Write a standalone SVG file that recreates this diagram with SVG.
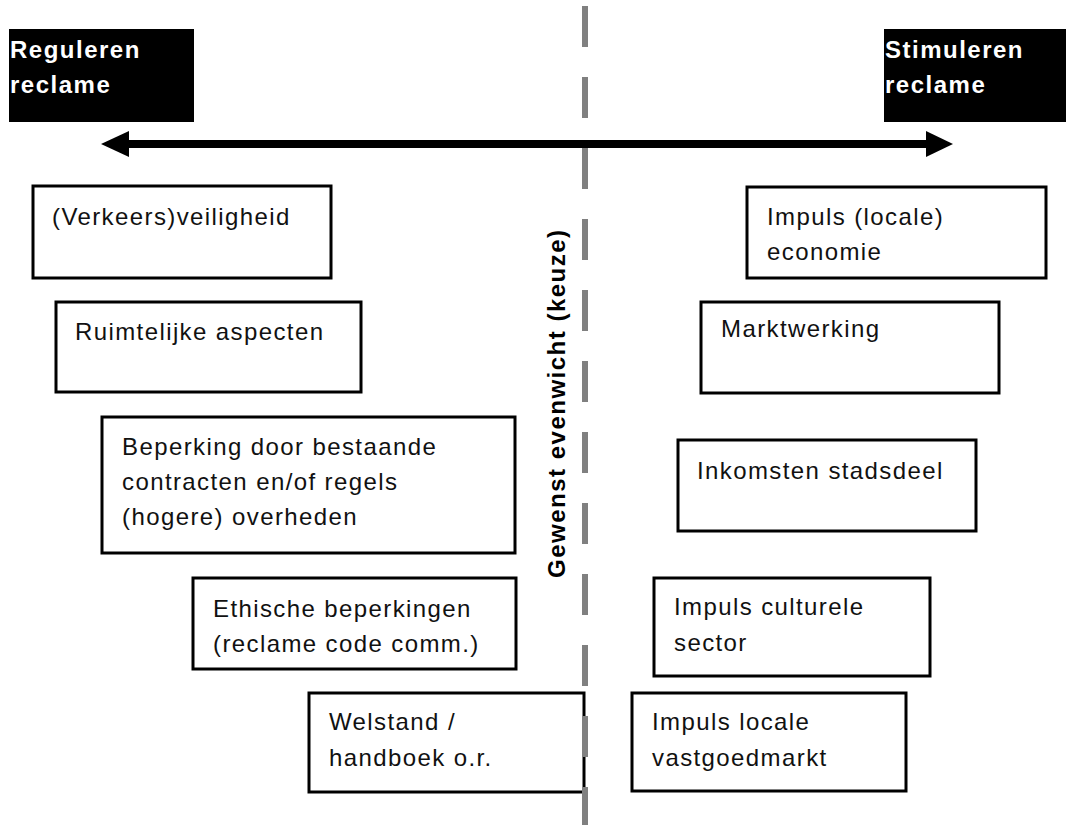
<svg xmlns="http://www.w3.org/2000/svg" width="1066" height="825" viewBox="0 0 1066 825">
<style>
.box{fill:#fff;stroke:#000;stroke-width:3}
.t{font-family:"Liberation Sans",Arial,sans-serif;font-size:24px;letter-spacing:1.4px;fill:#111}
.h{font-family:"Liberation Sans",Arial,sans-serif;font-size:24px;font-weight:bold;letter-spacing:1.5px;fill:#fff}
.v{font-family:"Liberation Sans",Arial,sans-serif;font-size:24px;font-weight:bold;letter-spacing:1.5px;fill:#000}
</style>
<rect width="1066" height="825" fill="#fff"/>
<g id="hdr-left">
<rect x="9" y="29" width="185" height="93" fill="#000"/>
<text class="h" x="10" y="58">Reguleren</text>
<text class="h" x="10" y="93">reclame</text>
</g>
<g id="hdr-right">
<rect x="884" y="29" width="182" height="93" fill="#000"/>
<text class="h" x="885" y="58">Stimuleren</text>
<text class="h" x="885" y="93">reclame</text>
</g>
<g id="connectors">
<rect x="127" y="140" width="801" height="8" fill="#000"/>
<polygon points="101,144 129,131 129,157" fill="#000"/>
<polygon points="953,144 926,131 926,157" fill="#000"/>
</g>
<g id="n-verkeer"><rect class="box" x="33" y="186" width="298" height="92"/><text class="t" x="52" y="225">(Verkeers)veiligheid</text></g>
<g id="n-ruimte"><rect class="box" x="56" y="302" width="305" height="90"/><text class="t" x="75" y="340">Ruimtelijke aspecten</text></g>
<g id="n-beperking"><rect class="box" x="102" y="417" width="413" height="136"/><text class="t" x="122" y="455">Beperking door bestaande</text><text class="t" x="122" y="490">contracten en/of regels</text><text class="t" x="122" y="525">(hogere) overheden</text></g>
<g id="n-ethisch"><rect class="box" x="193" y="578" width="323" height="91"/><text class="t" x="213" y="617">Ethische beperkingen</text><text class="t" x="213" y="652">(reclame code comm.)</text></g>
<g id="n-welstand"><rect class="box" x="309" y="693" width="275" height="99"/><text class="t" x="329" y="730">Welstand /</text><text class="t" x="329" y="766">handboek o.r.</text></g>
<g id="n-economie"><rect class="box" x="747" y="187" width="299" height="91"/><text class="t" x="767" y="225">Impuls (locale)</text><text class="t" x="767" y="260">economie</text></g>
<g id="n-markt"><rect class="box" x="701" y="302" width="298" height="91"/><text class="t" x="721" y="337">Marktwerking</text></g>
<g id="n-inkomsten"><rect class="box" x="678" y="440" width="298" height="91"/><text class="t" x="697" y="479">Inkomsten stadsdeel</text></g>
<g id="n-cultuur"><rect class="box" x="654" y="578" width="276" height="98"/><text class="t" x="674" y="615">Impuls culturele</text><text class="t" x="674" y="651">sector</text></g>
<g id="n-vastgoed"><rect class="box" x="632" y="693" width="274" height="98"/><text class="t" x="652" y="730">Impuls locale</text><text class="t" x="652" y="766">vastgoedmarkt</text></g>
<g id="evenwicht">
<line x1="585" y1="6" x2="585" y2="825" stroke="#808080" stroke-width="6" stroke-dasharray="41 30"/>
<text class="v" x="565" y="578" transform="rotate(-90 565 578)">Gewenst evenwicht (keuze)</text>
</g>
</svg>
